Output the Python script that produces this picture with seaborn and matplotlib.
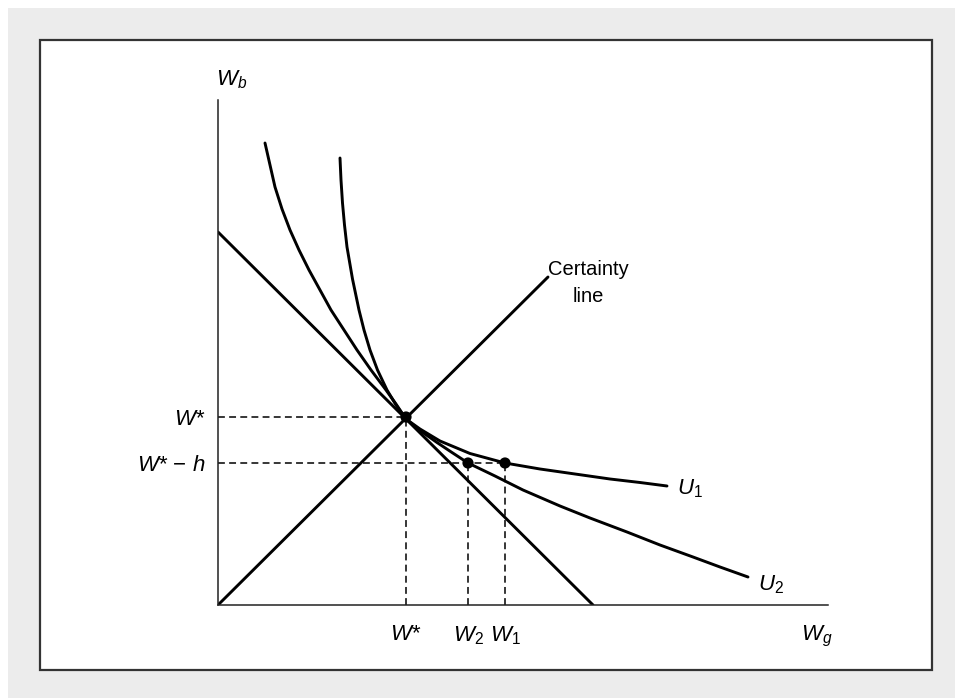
import numpy as np
import pandas as pd
import seaborn as sns
from matplotlib import pyplot as plt
from matplotlib.patches import Rectangle

# values (units: pixels from the origin)
u1_x = [122, 123, 124.5, 126.5, 129, 134.5, 141, 146, 152, 159.5, 169, 178, 188,
        202, 222, 252, 287, 322, 357, 392, 422, 449]
u1_y = [447, 425, 402, 380, 358, 326, 295, 275, 255, 235, 215, 200, 186,
        176, 164, 151.5, 142, 136, 131, 126, 122.5, 119]
u2_x = [47, 52, 57, 64, 72, 81, 91, 102, 113, 126, 139, 153, 168, 178, 188,
        202, 219, 234, 250, 277, 305, 342, 372, 409, 442, 475, 502, 530]
u2_y = [462, 440, 418, 396, 375, 355, 335, 315, 295, 275, 255, 235, 215, 201, 186,
        174.5, 162.5, 152.5, 142, 129, 115, 99, 87, 73, 60, 48, 38, 28]
budget_x = [0, 375]
budget_y = [373, 0]
certainty_x = [0, 330]
certainty_y = [0, 328]
w_star = 188
w_star_minus_h = 142
w2 = 250
w1 = 287
x_ticks = [w_star, w2, w1]
x_labels = ['$W$*', '$W_2$', '$W_1$']
y_ticks = [w_star, w_star_minus_h]
y_labels = ['$W$*', '$W$* − $h$']

sns.set_style('white')
plt.rcParams['font.family'] = ['Liberation Sans', 'DejaVu Sans']
plt.rcParams['mathtext.fontset'] = 'custom'
plt.rcParams['mathtext.rm'] = 'Liberation Sans'
plt.rcParams['mathtext.it'] = 'Liberation Sans:italic'
plt.rcParams['text.color'] = 'black'
plt.rcParams['xtick.color'] = 'black'
plt.rcParams['ytick.color'] = 'black'

W, H = 955, 698
fig = plt.figure(figsize=(W / 100, H / 100), dpi=100, facecolor='white')
fig.patches.append(Rectangle((8 / W, 0), 1 - 8 / W, 1 - 8 / H, transform=fig.transFigure,
                             facecolor='#ececec', edgecolor='none', zorder=-2))
fig.patches.append(Rectangle((40 / W, 1 - 670 / H), 892 / W, 630 / H, transform=fig.transFigure,
                             facecolor='white', edgecolor='#333333', linewidth=1.6, zorder=-1))

ax = fig.add_axes([218 / W, 1 - 605 / H, 610 / W, 505 / H])
ax.patch.set_alpha(0)
ax.set_xlim(0, 610)
ax.set_ylim(0, 505)

lw = 2.1
line_kw = dict(sort=False, color='black', linewidth=lw, solid_joinstyle='round', ax=ax)
sns.lineplot(x=u1_x, y=u1_y, **line_kw)
sns.lineplot(x=u2_x, y=u2_y, **line_kw)
sns.lineplot(x=budget_x, y=budget_y, **line_kw)
sns.lineplot(x=certainty_x, y=certainty_y, **line_kw)

dash = dict(color='black', linewidth=1.1, linestyle=(0, (4.5, 2.8)), zorder=1)
ax.plot([0, w_star], [w_star, w_star], **dash)
ax.plot([w_star, w_star], [0, w_star], **dash)
ax.plot([0, w1], [w_star_minus_h, w_star_minus_h], **dash)
ax.plot([w2, w2], [0, w_star_minus_h], **dash)
ax.plot([w1, w1], [0, w_star_minus_h], **dash)

pts = pd.DataFrame({'x': [w_star, w2, w1], 'y': [w_star, w_star_minus_h, w_star_minus_h]})
sns.scatterplot(data=pts, x='x', y='y', color='black', s=65, edgecolor='none', zorder=5, ax=ax)

for side in ['top', 'right']:
    ax.spines[side].set_visible(False)
for side in ['left', 'bottom']:
    ax.spines[side].set_color('#222222')
    ax.spines[side].set_linewidth(1.1)

fs = 16
ax.set_xticks(x_ticks)
ax.set_xticklabels(x_labels, fontsize=fs)
ax.set_yticks(y_ticks)
ax.set_yticklabels(y_labels, fontsize=fs)
ax.tick_params(axis='x', length=0, pad=14)
ax.tick_params(axis='y', length=0, pad=9)
ax.set_xlabel('')
ax.set_ylabel('')

ax.text(14, 525, '$W_b$', fontsize=fs, ha='center', va='center', clip_on=False)
ax.text(599, -31, '$W_g$', fontsize=fs, ha='center', va='center', clip_on=False)
ax.text(459, 116, '$U_1$', fontsize=fs, ha='left', va='center', clip_on=False)
ax.text(540, 20, '$U_2$', fontsize=fs, ha='left', va='center', clip_on=False)
ax.text(370, 322, 'Certainty\nline', fontsize=14.5, ha='center', va='center',
        linespacing=1.55, clip_on=False)

fig.savefig('out.png', dpi=100, facecolor=fig.get_facecolor())
